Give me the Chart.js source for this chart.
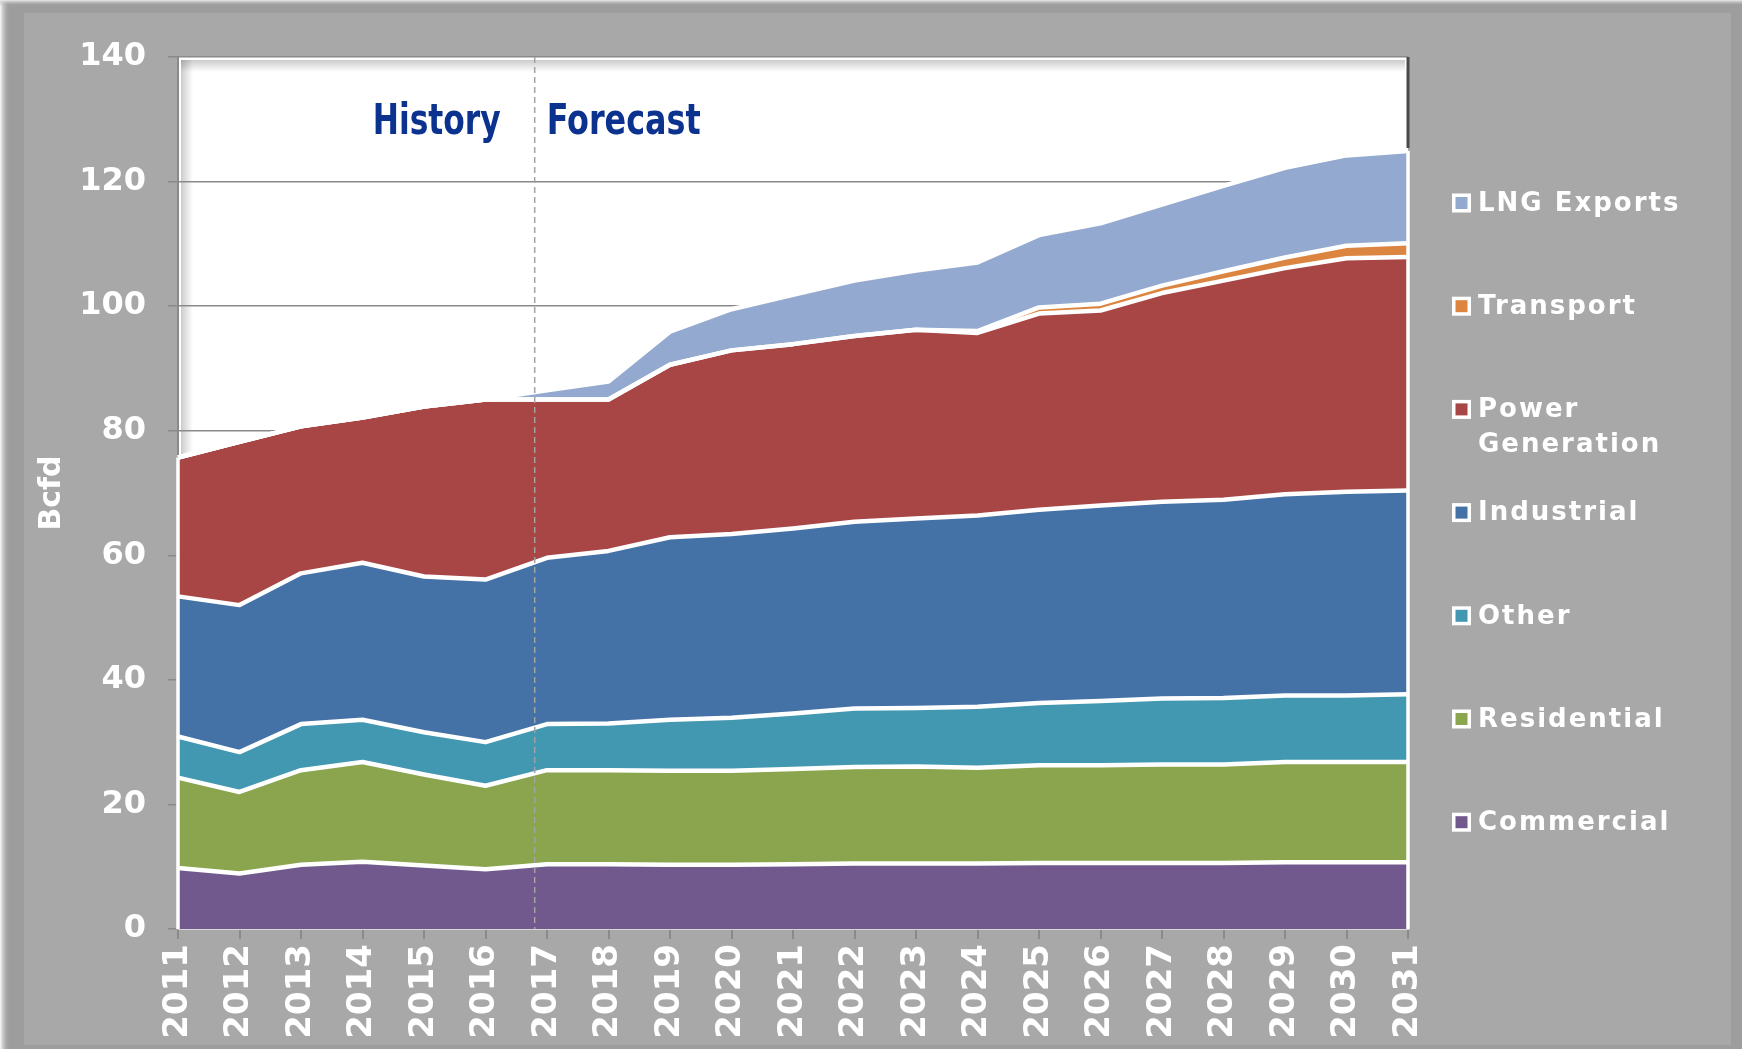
<!DOCTYPE html>
<html>
<head>
<meta charset="utf-8">
<script src="https://cdn.jsdelivr.net/npm/chart.js@4.4.1/dist/chart.umd.min.js"></script>
<style>
  html, body { margin: 0; padding: 0; background: #9d9d9d; overflow: hidden; }
  #wrap { width: 1742px; height: 1049px; position: relative; }
  canvas { display: block; }
</style>
</head>
<body>
<div id="wrap"><canvas id="c" width="1742" height="1049"></canvas></div>
<script>
// ---------- data (Bcfd) ----------
const years = ['2011','2012','2013','2014','2015','2016','2017','2018','2019','2020',
               '2021','2022','2023','2024','2025','2026','2027','2028','2029','2030','2031'];

const commercial  = [9.8, 8.9, 10.3, 10.8, 10.2, 9.6, 10.4, 10.4, 10.3, 10.3, 10.4, 10.5, 10.5, 10.5, 10.6, 10.6, 10.6, 10.6, 10.7, 10.7, 10.7];
const residential = [14.5, 13.1, 15.2, 16.0, 14.6, 13.4, 15.1, 15.1, 15.1, 15.1, 15.3, 15.5, 15.6, 15.4, 15.7, 15.7, 15.8, 15.8, 16.1, 16.1, 16.1];
const other       = [6.6, 6.4, 7.4, 6.8, 6.8, 7.0, 7.4, 7.5, 8.2, 8.5, 8.9, 9.4, 9.4, 9.8, 10.0, 10.3, 10.6, 10.7, 10.7, 10.7, 10.9];
const industrial  = [22.5, 23.6, 24.2, 25.2, 25.0, 26.1, 26.7, 27.7, 29.3, 29.5, 29.7, 30.0, 30.4, 30.7, 31.0, 31.4, 31.6, 31.8, 32.3, 32.7, 32.7];
const powerGen    = [22.3, 26.2, 23.6, 23.3, 27.3, 28.9, 25.4, 24.3, 27.7, 29.5, 29.6, 29.8, 30.3, 29.3, 31.5, 31.3, 33.5, 35.2, 36.3, 37.5, 37.5];
const transport   = [0, 0, 0, 0, 0, 0, 0, 0, 0, 0, 0, 0, 0, 0.3, 1.0, 1.1, 1.2, 1.5, 1.7, 2.0, 2.2];
const lngExports  = [0, 0, 0, 0, 0, 0, 1.5, 2.9, 5.3, 6.6, 7.9, 8.9, 9.5, 11.0, 11.6, 12.9, 13.0, 13.7, 14.4, 14.5, 14.8];

const seriesNames  = ['Commercial', 'Residential', 'Other', 'Industrial', 'Power Generation', 'Transport', 'LNG Exports'];
const seriesValues = [commercial, residential, other, industrial, powerGen, transport, lngExports];
const seriesColors = ['#71598e', '#8aa54e', '#4298b0', '#4572a6', '#a84646', '#db8541', '#93a9cf'];

const yTickMin = 0, yTickMax = 140, yTickStep = 20;
const forecastDividerIndex = 5.8;   // between 2016 and 2017
const historyLabel = 'History';
const forecastLabel = 'Forecast';
const yTitle = 'Bcfd';
const legendLines = { 'Power Generation': ['Power', 'Generation'] };

// ---------- plugins ----------
const FONT = '"DejaVu Sans", Verdana, sans-serif';

const backgroundPlugin = {
  id: 'bgPanel',
  beforeDraw(chart) {
    const { ctx, chartArea: a, width, height } = chart;
    ctx.save();
    ctx.fillStyle = '#9d9d9d';
    ctx.fillRect(0, 0, width, height);
    let g = ctx.createLinearGradient(0, 0, 10, 0);
    g.addColorStop(0, 'rgba(250,250,250,1)');
    g.addColorStop(1, 'rgba(157,157,157,0)');
    ctx.fillStyle = g; ctx.fillRect(0, 0, 10, height);
    g = ctx.createLinearGradient(0, 0, 0, 6);
    g.addColorStop(0, 'rgba(235,235,235,1)');
    g.addColorStop(1, 'rgba(157,157,157,0)');
    ctx.fillStyle = g; ctx.fillRect(0, 0, width, 6);
    ctx.fillStyle = '#a8a8a8';
    ctx.fillRect(24, 13, 1731 - 24, 1045 - 13);
    // plot area
    ctx.fillStyle = '#ffffff';
    ctx.fillRect(a.left, a.top, a.right - a.left, a.bottom - a.top);
    // bevel shading
    g = ctx.createLinearGradient(0, a.top + 3, 0, a.top + 15);
    g.addColorStop(0, 'rgba(0,0,0,0.2)');
    g.addColorStop(1, 'rgba(0,0,0,0)');
    ctx.fillStyle = g; ctx.fillRect(a.left + 3, a.top + 3, a.right - a.left - 6, 12);
    g = ctx.createLinearGradient(a.left + 3, 0, a.left + 15, 0);
    g.addColorStop(0, 'rgba(0,0,0,0.2)');
    g.addColorStop(1, 'rgba(0,0,0,0)');
    ctx.fillStyle = g; ctx.fillRect(a.left + 3, a.top + 3, 12, a.bottom - a.top - 6);
    ctx.restore();
  }
};

const overlayPlugin = {
  id: 'overlay',
  afterDatasetsDraw(chart) {
    const { ctx, chartArea: a, scales: { x, y } } = chart;
    const n = years.length;
    const total = i => seriesValues.reduce((s, arr) => s + arr[i], 0);
    ctx.save();
    // area end borders
    ctx.lineWidth = 3.5;
    ctx.strokeStyle = '#ffffff';
    ctx.beginPath();
    ctx.moveTo(x.getPixelForValue(0), y.getPixelForValue(total(0)));
    ctx.lineTo(x.getPixelForValue(0), a.bottom);
    ctx.moveTo(x.getPixelForValue(n - 1), y.getPixelForValue(total(n - 1)));
    ctx.lineTo(x.getPixelForValue(n - 1), a.bottom);
    ctx.stroke();
    ctx.lineWidth = 3;
    ctx.strokeStyle = '#4a4a4a';
    ctx.beginPath();
    ctx.moveTo(a.right, a.top);
    ctx.lineTo(a.right, y.getPixelForValue(total(n - 1)) - 3);
    ctx.stroke();

    // forecast divider
    const xd = x.getPixelForValue(forecastDividerIndex);
    ctx.strokeStyle = '#a3a3a3';
    ctx.lineWidth = 1.5;
    ctx.setLineDash([6, 4]);
    ctx.beginPath();
    ctx.moveTo(xd, a.top);
    ctx.lineTo(xd, a.bottom);
    ctx.stroke();
    ctx.setLineDash([]);

    // History / Forecast labels
    ctx.fillStyle = '#0c3290';
    ctx.font = 'bold 42px "DejaVu Sans Condensed", "DejaVu Sans", sans-serif';
    ctx.textBaseline = 'alphabetic';
    const baseY = a.top + 77;
    const drawSqueezed = (text, left, targetW) => {
      const w = ctx.measureText(text).width;
      const s = targetW / w;
      ctx.save();
      ctx.translate(left, baseY);
      ctx.scale(s, 1);
      ctx.textAlign = 'left';
      ctx.fillText(text, 0, 0);
      ctx.restore();
    };
    drawSqueezed(historyLabel, xd - 34 - 128, 128);
    drawSqueezed(forecastLabel, xd + 12, 154);
    ctx.restore();
  }
};

const legendPlugin = {
  id: 'sideLegend',
  afterDraw(chart) {
    const { ctx } = chart;
    ctx.save();
    ctx.font = 'bold 26px ' + FONT;
    ctx.textBaseline = 'middle';
    ctx.textAlign = 'left';
    try { ctx.letterSpacing = '2px'; } catch (e) {}
    const boxX = 1452, textX = 1478, top = 203, step = 103.2;
    for (let k = 0; k < seriesNames.length; k++) {
      const idx = seriesNames.length - 1 - k;
      const name = seriesNames[idx];
      const cy = top + k * step;
      ctx.fillStyle = '#ffffff';
      ctx.fillRect(boxX, cy - 9.5, 19, 19);
      ctx.fillStyle = seriesColors[idx];
      ctx.fillRect(boxX + 3.5, cy - 6, 12, 12);
      ctx.fillStyle = '#ffffff';
      const lines = legendLines[name] || [name];
      lines.forEach((ln, j) => ctx.fillText(ln, textX, cy + 1 + j * 35));
    }
    ctx.restore();
  }
};

// ---------- chart ----------
Chart.defaults.font.family = FONT;

const datasets = seriesNames.map((name, i) => ({
  label: name,
  data: seriesValues[i],
  backgroundColor: seriesColors[i],
  borderColor: '#ffffff',
  borderWidth: 4.5,
  borderJoinStyle: 'round',
  pointRadius: 0,
  pointHoverRadius: 0,
  tension: 0,
  fill: i === 0 ? 'origin' : '-1'
}));

new Chart(document.getElementById('c'), {
  type: 'line',
  data: { labels: years, datasets },
  options: {
    responsive: false,
    animation: false,
    devicePixelRatio: 1,
    layout: { padding: { top: 57, right: 334, left: 0, bottom: 0 } },
    plugins: {
      legend: { display: false },
      tooltip: { enabled: false },
      filler: { drawTime: 'beforeDatasetsDraw' }
    },
    scales: {
      x: {
        offset: false,
        grid: { drawOnChartArea: false, drawTicks: true, tickLength: 10, color: '#8a8a8a', lineWidth: 2, offset: false },
        border: { display: true, color: '#d8d8d8', width: 2 },
        ticks: {
          autoSkip: false, maxRotation: 90, minRotation: 90, padding: 5,
          color: '#ffffff', font: { size: 34, weight: 'bold' }
        },
        afterFit(scale) { scale.height = 120; scale.paddingLeft = 0; scale.paddingRight = 0; }
      },
      y: {
        stacked: true,
        min: yTickMin, max: yTickMax,
        grid: { color: '#8a8a8a', lineWidth: 1.5, tickLength: 10 },
        border: { display: true, color: '#8a8a8a', width: 2 },
        ticks: { stepSize: yTickStep, padding: 22, color: '#ffffff', font: { size: 32, weight: 'bold' } },
        title: { display: true, text: yTitle, color: '#ffffff', font: { size: 30, weight: 'bold' }, padding: { top: 34, bottom: 0 } },
        afterFit(scale) { scale.width = 178; scale.paddingTop = 0; scale.paddingBottom = 0; }
      }
    }
  },
  plugins: [backgroundPlugin, overlayPlugin, legendPlugin]
});
</script>
</body>
</html>
